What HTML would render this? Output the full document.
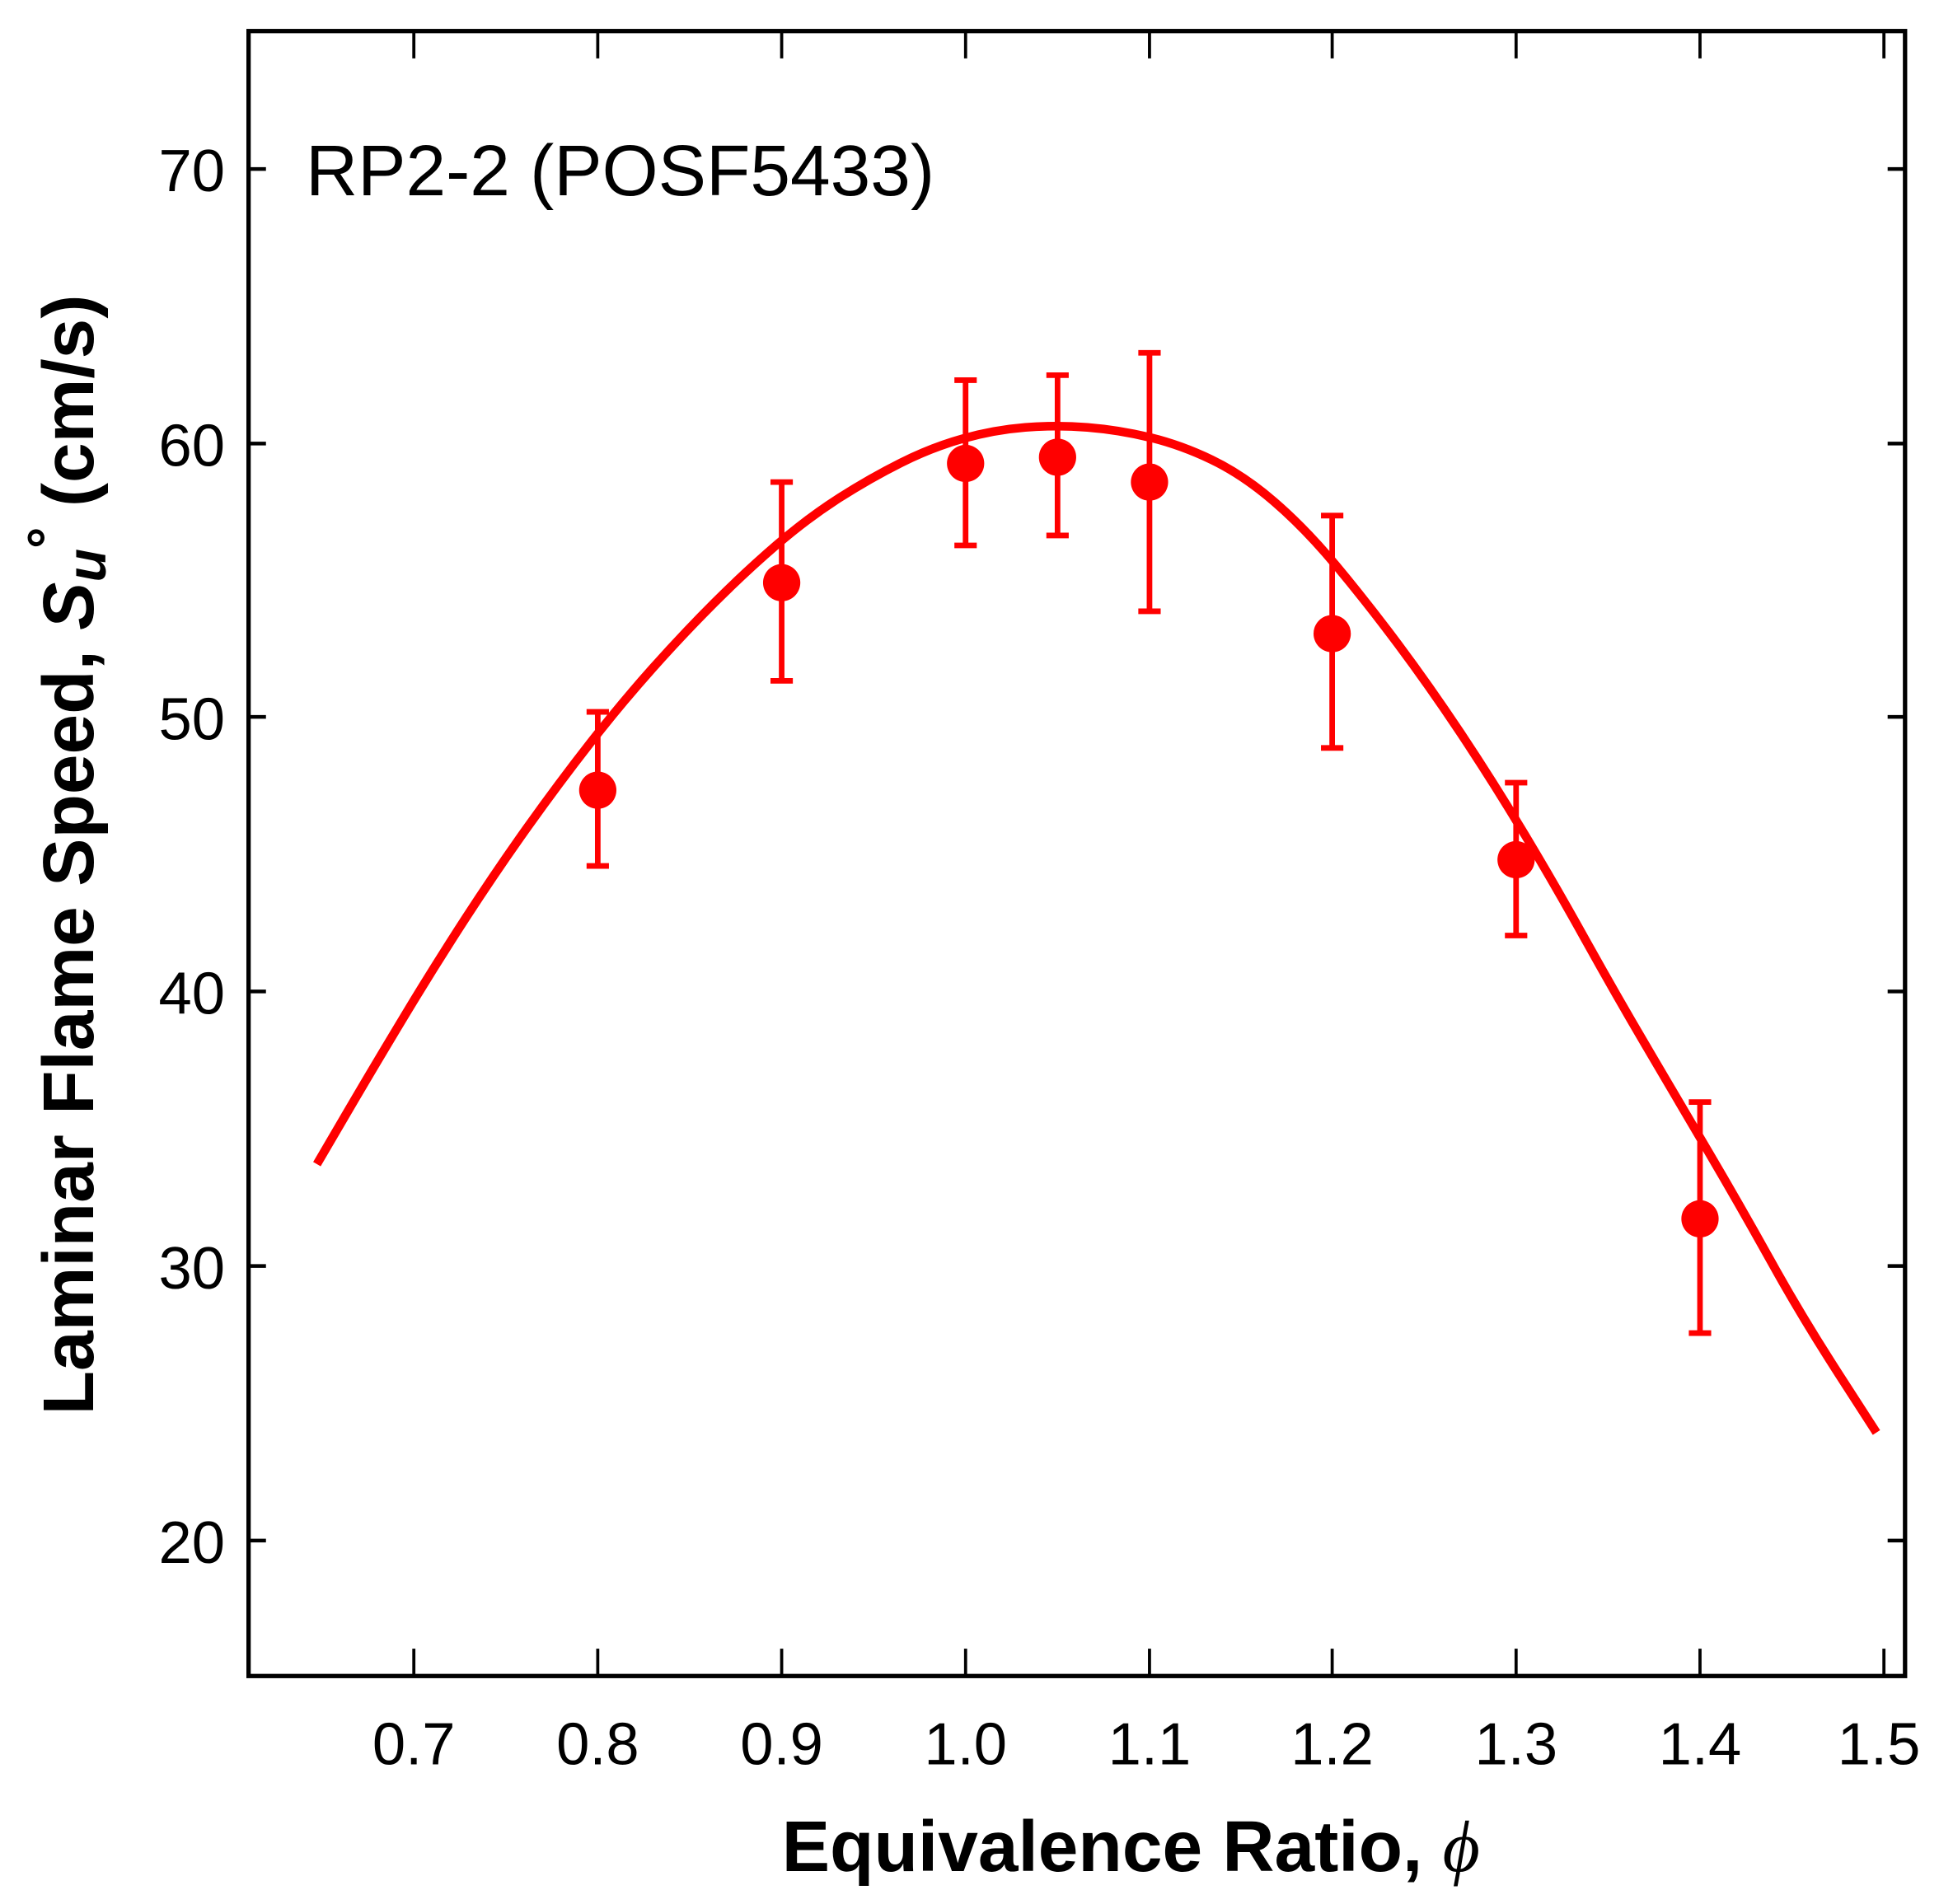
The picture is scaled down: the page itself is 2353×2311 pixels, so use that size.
<!DOCTYPE html>
<html><head><meta charset="utf-8"><style>html,body{margin:0;padding:0;background:#fff}svg{display:block}</style></head><body>
<svg width="2353" height="2311" viewBox="0 0 1560.3 1532.5" xmlns="http://www.w3.org/2000/svg">
<rect width="1560.3" height="1532.5" fill="#fff"/>
<g font-family="Liberation Sans, Arial, sans-serif" fill="#000">
<rect x="200" y="25" width="1333" height="1324" fill="none" stroke="#000" stroke-width="3.5"/>
<g stroke="#000" stroke-width="2.5">
<line x1="333" y1="1349" x2="333" y2="1327"/><line x1="481" y1="1349" x2="481" y2="1327"/><line x1="629" y1="1349" x2="629" y2="1327"/><line x1="777" y1="1349" x2="777" y2="1327"/><line x1="925" y1="1349" x2="925" y2="1327"/><line x1="1072" y1="1349" x2="1072" y2="1327"/><line x1="1220" y1="1349" x2="1220" y2="1327"/><line x1="1368" y1="1349" x2="1368" y2="1327"/><line x1="1516" y1="1349" x2="1516" y2="1327"/>
<line x1="333" y1="25" x2="333" y2="47"/><line x1="481" y1="25" x2="481" y2="47"/><line x1="629" y1="25" x2="629" y2="47"/><line x1="777" y1="25" x2="777" y2="47"/><line x1="925" y1="25" x2="925" y2="47"/><line x1="1072" y1="25" x2="1072" y2="47"/><line x1="1220" y1="25" x2="1220" y2="47"/><line x1="1368" y1="25" x2="1368" y2="47"/><line x1="1516" y1="25" x2="1516" y2="47"/>
</g>
<g stroke="#000" stroke-width="3">
<line x1="200" y1="136" x2="214" y2="136"/><line x1="200" y1="357" x2="214" y2="357"/><line x1="200" y1="577" x2="214" y2="577"/><line x1="200" y1="798" x2="214" y2="798"/><line x1="200" y1="1019" x2="214" y2="1019"/><line x1="200" y1="1240" x2="214" y2="1240"/>
<line x1="1533" y1="136" x2="1519" y2="136"/><line x1="1533" y1="357" x2="1519" y2="357"/><line x1="1533" y1="577" x2="1519" y2="577"/><line x1="1533" y1="798" x2="1519" y2="798"/><line x1="1533" y1="1019" x2="1519" y2="1019"/><line x1="1533" y1="1240" x2="1519" y2="1240"/>
</g>
<g font-size="48" text-anchor="end">
<text x="181" y="154">70</text><text x="181" y="375">60</text><text x="181" y="595">50</text><text x="181" y="816">40</text><text x="181" y="1037">30</text><text x="181" y="1258">20</text>
</g>
<g font-size="48" text-anchor="middle">
<text x="333" y="1420">0.7</text><text x="481" y="1420">0.8</text><text x="629" y="1420">0.9</text><text x="777" y="1420">1.0</text><text x="925" y="1420">1.1</text><text x="1072" y="1420">1.2</text><text x="1220" y="1420">1.3</text><text x="1368" y="1420">1.4</text><text x="1512" y="1420">1.5</text>
</g>
<text x="246" y="157" font-size="58">RP2-2 (POSF5433)</text>
<text x="910" y="1506" font-size="58" font-weight="bold" text-anchor="middle">Equivalence Ratio, <tspan font-family="Liberation Serif, serif" font-style="italic" font-weight="normal">ϕ</tspan></text>
<text transform="translate(75,688) rotate(-90)" font-size="58" font-weight="bold" text-anchor="middle">Laminar Flame Speed, <tspan font-style="italic">S</tspan><tspan font-style="italic" font-size="44" dy="10">u</tspan><tspan dy="-32" font-size="44">°</tspan><tspan dy="22"> (cm/s)</tspan></text>
</g>
<path d="M255,937 L277.5,898.5 Q300,860 325,818.5 Q350,777 375,738.5 Q400,700 425,665 Q450,630 475,598 Q500,566 525,538 Q550,510 575,485 Q600,460 625,438.5 Q650,417 675,401 Q700,385 725,372.5 Q750,360 775,353 Q800,346 825,344 Q850,342 875,344 Q900,346 925,352 Q950,358 975,370 Q1000,382 1025,403.5 Q1050,425 1075,455 Q1100,485 1125,518.5 Q1150,552 1175,589.5 Q1200,627 1225,668.5 Q1250,710 1275,755 Q1300,800 1325,842.5 Q1350,885 1375,927.5 Q1400,970 1425,1015 Q1450,1060 1480,1106.5 L1510,1153" fill="none" stroke="#ff0000" stroke-width="7" stroke-linejoin="round"/>
<g stroke="#ff0000" stroke-width="4.5" fill="none">
<path d="M481,573V697M472,573H490M472,697H490"/>
<path d="M629,388V548M620,388H638M620,548H638"/>
<path d="M777,306V439M768,306H786M768,439H786"/>
<path d="M851,302V431M842,302H860M842,431H860"/>
<path d="M925,284V492M916,284H934M916,492H934"/>
<path d="M1072,415V602M1063,415H1081M1063,602H1081"/>
<path d="M1220,630V753M1211,630H1229M1211,753H1229"/>
<path d="M1368,887V1073M1359,887H1377M1359,1073H1377"/>
</g>
<g fill="#ff0000">
<circle cx="481" cy="636" r="15"/><circle cx="629" cy="469" r="15"/><circle cx="777" cy="373" r="15"/><circle cx="851" cy="368" r="15"/><circle cx="925" cy="388" r="15"/><circle cx="1072" cy="510" r="15"/><circle cx="1220" cy="692" r="15"/><circle cx="1368" cy="981" r="15"/>
</g>
</svg>
</body></html>
